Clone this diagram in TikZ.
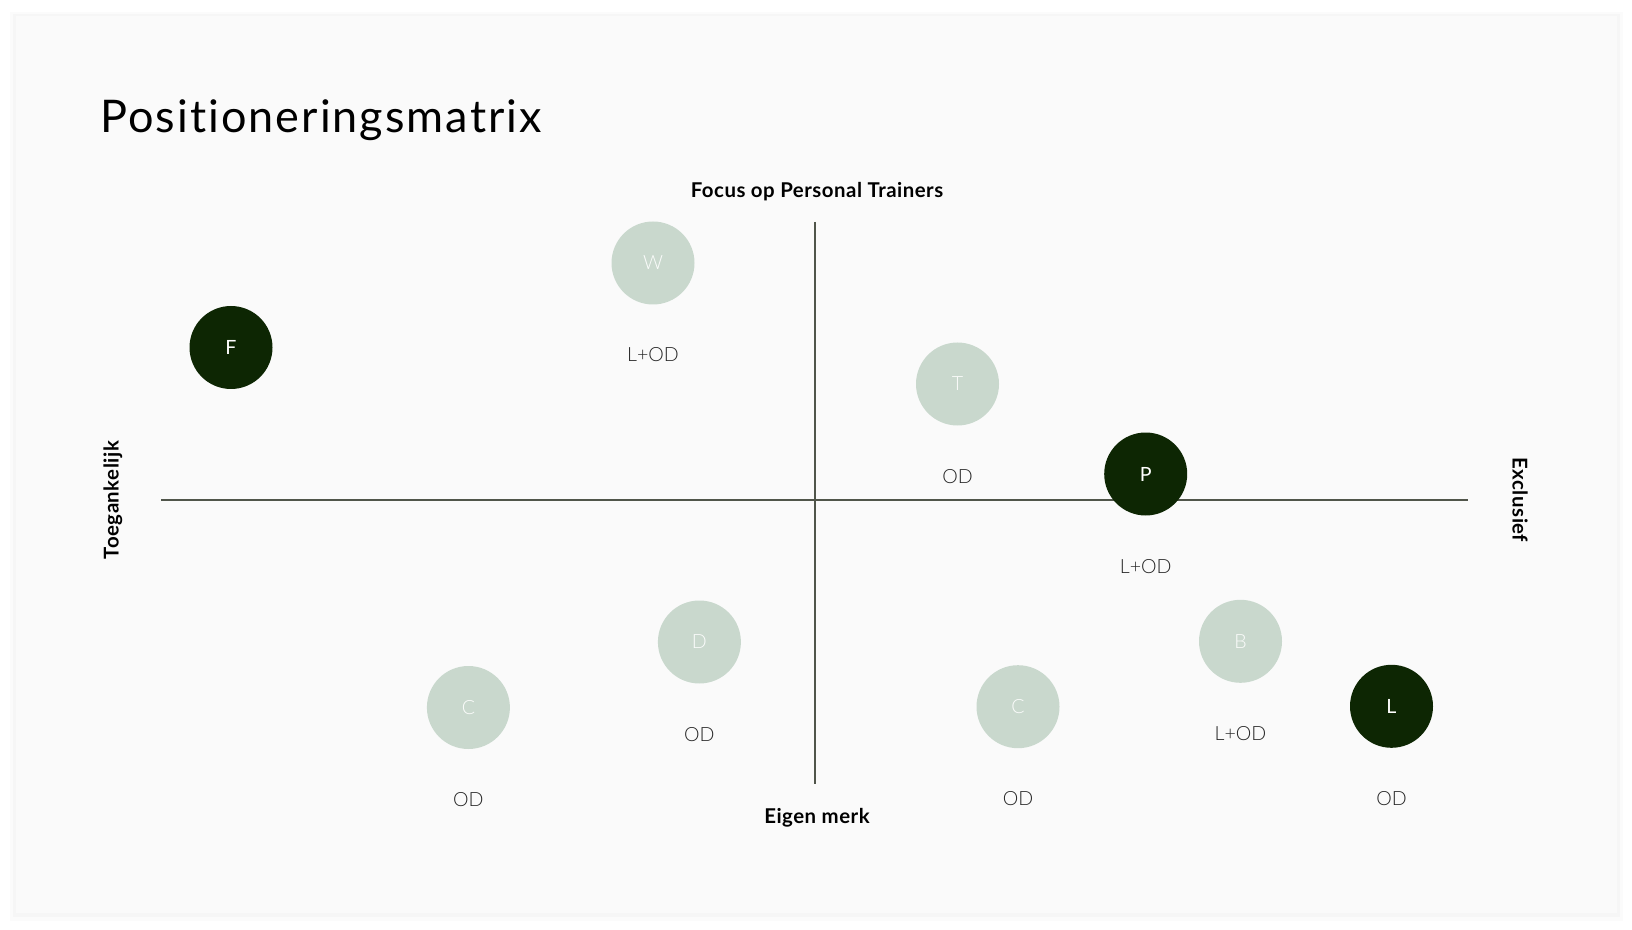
\documentclass[tikz,border=0pt]{standalone}
\usepackage{fontspec}
\setmainfont{Lato}
\newfontfamily\lightfont{Lato Light}
\newfontfamily\titlefont[LetterSpace=4.5,Ligatures=CommonOff]{Lato}
\newfontfamily\axisfont[LetterSpace=2.5]{Lato Bold}
\usepackage{tikz}

\definecolor{darkgreen}{HTML}{0D2603}
\definecolor{sage}{HTML}{C9D8CD}
\definecolor{axisgray}{HTML}{50554A}
\definecolor{card}{HTML}{FAFAFA}

\begin{document}
\begin{tikzpicture}[x=0.5pt,y=-0.5pt,
	brand/.style={circle,minimum size=41.5pt,inner sep=0pt,text=white,font=\lightfont\fontsize{9.8}{11}\selectfont},
	leader/.style={brand,fill=darkgreen,font=\fontsize{9.8}{11}\selectfont},
	other/.style={brand,fill=sage,text=white!92!sage},
	channel/.style={anchor=base,inner sep=0pt,text=black!85,font=\lightfont\fontsize{9.8}{11}\selectfont},
	axislabel/.style={inner sep=0pt,font=\axisfont\fontsize{10.2}{12}\selectfont}]
			\useasboundingbox (0,0) rectangle (1632,930);
			\fill[white] (0,0) rectangle (1632,930);
			% card with a soft shadow
			\fill[black,opacity=0.015] (10,12) rectangle (1623,921);
			\fill[black,opacity=0.02] (13,14) rectangle (1620,917);
			\fill[card] (16,16) rectangle (1617,913);
			\node[anchor=base west,inner sep=0pt,font=\titlefont\fontsize{22.5}{26}\selectfont] (title) at (100,132.7) {Positioneringsmatrix};
			% axes
			\coordinate (top) at (815,222);
			\coordinate (bottom) at (815,784);
			\coordinate (left) at (161,500);
			\coordinate (right) at (1468,500);
			\draw[axisgray,line width=0.6pt] (left) -- (right);
			\draw[axisgray,line width=0.6pt] (top) -- (bottom);
			\node[axislabel] (focus) at (817,192) {Focus op Personal Trainers};
			\node[axislabel] (eigen) at (817,817.5) {Eigen merk};
			\node[axislabel,rotate=90] (toeg) at (113,500) {Toegankelijk};
			\node[axislabel,rotate=-90] (excl) at (1520,500) {Exclusief};
			% brands
			\node[leader] (fcirc) at (231,347.5) {F};
			\node[other] (wcirc) at (653,263) {W};
			\node[other] (tcirc) at (957.5,384) {T};
			\node[leader] (pcirc) at (1145.7,474) {P};
			\node[other] (dcirc) at (699.4,642) {D};
			\node[other] (conecirc) at (468.4,707.5) {C};
			\node[other] (ctwocirc) at (1018,706.7) {C};
			\node[other] (bcirc) at (1240.5,641.3) {B};
			\node[leader] (lcirc) at (1391.5,706.3) {L};
			% channels
			\node[channel] (wlab) at (653,362) {L+OD};
			\node[channel] (tlab) at (957.5,483) {OD};
			\node[channel] (plab) at (1145.7,573) {L+OD};
			\node[channel] (dlab) at (699.4,741) {OD};
			\node[channel] (conelab) at (468.4,806) {OD};
			\node[channel] (ctwolab) at (1018,805.5) {OD};
			\node[channel] (blab) at (1240.5,740) {L+OD};
			\node[channel] (llab) at (1391.5,805) {OD};
		\end{tikzpicture}
\end{document}
